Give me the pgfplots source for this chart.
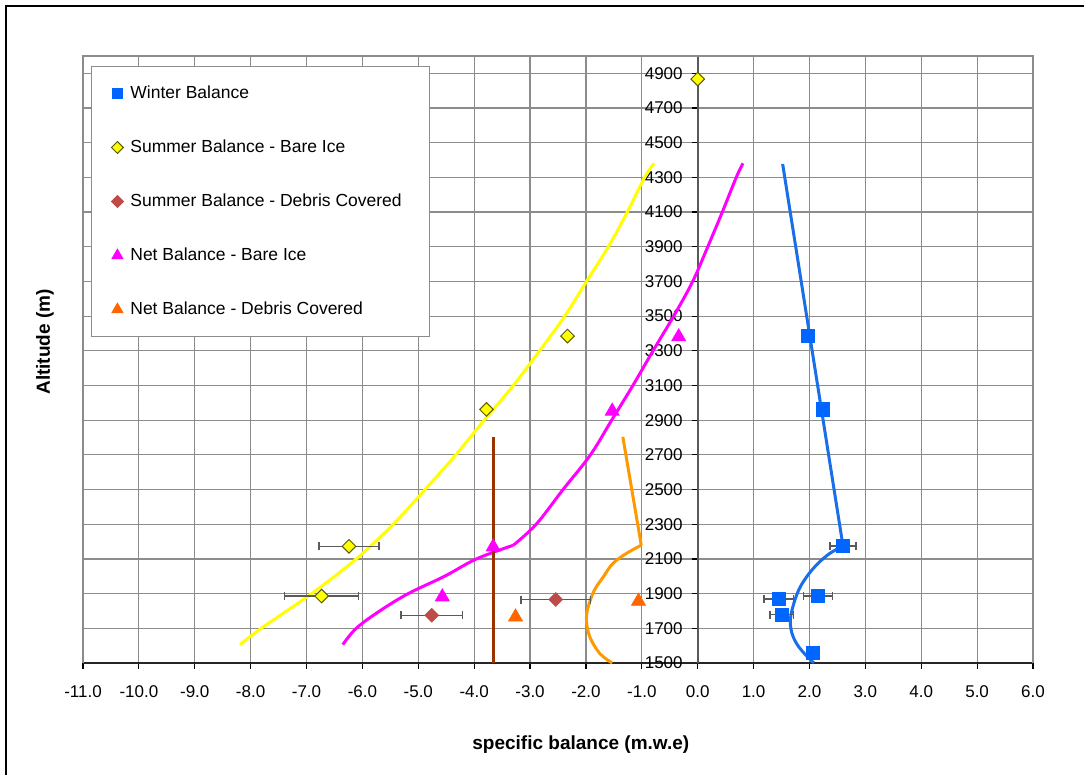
\documentclass[border=0pt]{standalone}
\usepackage{fontspec}
\setmainfont{Liberation Sans}
\usepackage{pgfplots}
\pgfplotsset{compat=1.18}
\definecolor{wb}{HTML}{0066FF}
\definecolor{wbline}{HTML}{1A6FE8}
\definecolor{sby}{HTML}{FFFF00}
\definecolor{sbyedge}{HTML}{5A5A00}
\definecolor{sbd}{HTML}{BE4B48}
\definecolor{nbi}{HTML}{FF00FF}
\definecolor{nbd}{HTML}{FF6600}
\definecolor{orl}{HTML}{FF9900}
\definecolor{brl}{HTML}{993300}
\definecolor{gridc}{HTML}{8C8C8C}
\definecolor{errc}{HTML}{5A5A5A}
\begin{document}
\begin{tikzpicture}
\useasboundingbox (-41.5pt,-56pt) rectangle (500.5pt,331.5pt);
\draw[black, line width=0.8pt] (-38.5pt,-56pt) -- (-38.5pt,328.5pt) -- (500.5pt,328.5pt);
\begin{axis}[
  scale only axis, width=475pt, height=303.5pt,
  at={(0,0)}, anchor=south west,
  xmin=-11, xmax=6, ymin=1500, ymax=5000,
  axis x line=bottom, axis y line=middle,
  hide obscured y ticks=false,
  hide obscured x ticks=false,
  x axis line style={black!85, line width=1pt, -},
  y axis line style={black!65, line width=1pt, -},
  xtick={-11,-10,...,6},
  ytick={1500,1700,...,4900},
  grid=major,
  major grid style={gridc, line width=0.6pt},
  tick align=outside,
  major tick length=3pt,
  tick style={black, line width=0.6pt},
  /pgf/number format/assume math mode=true,
  tick label style={font=\fontsize{8.5}{10}\selectfont},
  xticklabel style={/pgf/number format/.cd, fixed, fixed zerofill, precision=1, /tikz/.cd, yshift=-5pt},
  yticklabel style={/pgf/number format/.cd, 1000 sep={}, /tikz/.cd, xshift=-1pt},
  clip=false,
  legend image code/.code={\draw[#1] plot coordinates {(0.12cm,0cm)};},
  legend cell align=left,
  legend style={at={(0.0084,0.9835)}, anchor=north west, draw=gridc, line width=0.5pt,
    fill=white, font=\fontsize{8.75}{10}\selectfont, inner xsep=10pt, inner ysep=0pt,
    row sep=0pt, nodes={minimum height=27pt, inner ysep=0pt},
    /tikz/every odd column/.append style={column sep=1.5pt}},
]
% plot frame (top, left, right)
\draw[gridc, line width=0.6pt] (rel axis cs:0,0) -- (rel axis cs:0,1) -- (rel axis cs:1,1) -- (rel axis cs:1,0);

% legend images
\addlegendimage{only marks, mark=square*, color=wb, mark size=2.6pt}
\addlegendentry{Winter Balance}
\addlegendimage{only marks, mark=square*, mark size=2.1pt, mark options={rotate=45, draw=sbyedge, fill=sby, line width=0.5pt}}
\addlegendentry{Summer Balance - Bare Ice}
\addlegendimage{only marks, mark=square*, mark size=2.1pt, mark options={rotate=45, draw=sbd, fill=sbd}}
\addlegendentry{Summer Balance - Debris Covered\hspace*{2pt}}
\addlegendimage{only marks, mark=triangle*, color=nbi, mark size=3.1pt}
\addlegendentry{Net Balance - Bare Ice}
\addlegendimage{only marks, mark=triangle*, color=nbd, mark size=3.1pt}
\addlegendentry{Net Balance - Debris Covered}

% fitted lines
\addplot[sby, line width=1.5pt, no marks, smooth, tension=0.6, forget plot] coordinates {
 (-8.19,1606) (-7.81,1700) (-6.91,1900) (-6.11,2100) (-5.45,2300) (-4.88,2500)
 (-4.33,2700) (-3.82,2900) (-3.30,3100) (-2.83,3300) (-2.38,3500) (-1.99,3700)
 (-1.60,3900) (-1.26,4100) (-0.95,4300) (-0.78,4381)};
\addplot[nbi, line width=1.5pt, no marks, smooth, tension=0.6, forget plot] coordinates {
 (-6.35,1606) (-6.11,1700) (-5.69,1800) (-5.18,1900) (-4.53,2000) (-3.96,2100)
 (-3.30,2179)};
\addplot[nbi, line width=1.5pt, no marks, smooth, tension=0.6, forget plot] coordinates {
 (-3.30,2179) (-2.89,2300) (-2.41,2500) (-1.92,2700) (-1.54,2900) (-1.16,3100)
 (-0.80,3300) (-0.43,3500) (-0.09,3700) (0.18,3900) (0.44,4100) (0.69,4300) (0.81,4381)};
\addplot[brl, line width=1.5pt, no marks, forget plot] coordinates {(-3.66,1500) (-3.66,2804)};
\addplot[orl, line width=1.5pt, no marks, forget plot] coordinates {(-1.34,2804) (-1.01,2179)};
\addplot[orl, line width=1.5pt, no marks, smooth, tension=0.6, forget plot] coordinates {
 (-1.01,2179) (-1.28,2131) (-1.52,2073) (-1.69,1996) (-1.85,1919)
 (-1.96,1823) (-1.99,1746) (-1.93,1650) (-1.75,1554) (-1.53,1500)};
\addplot[wbline, line width=1.5pt, no marks, forget plot] coordinates {
 (1.52,4377) (2.60,2175)};
\addplot[wbline, line width=1.5pt, no marks, smooth, tension=0.6, forget plot] coordinates {
 (2.60,2175) (2.36,2131) (2.15,2073) (1.97,2006)
 (1.82,1929) (1.72,1843) (1.66,1756) (1.68,1679) (1.77,1612) (1.91,1554) (2.08,1500)};

% data points
\addplot[only marks, mark=square*, color=wb, mark size=3.3pt, forget plot,
  error bars/.cd, x dir=both, x explicit,
  error bar style={errc, line width=0.75pt},
  error mark options={errc, mark size=2pt, line width=0.75pt, rotate=90}]
 coordinates {(1.97,3386) +- (0,0) (2.24,2962) +- (0,0) (2.60,2175) +- (0.23,0)
  (1.45,1869) +- (0.26,0) (2.15,1886) +- (0.26,0) (1.50,1779) +- (0.21,0) (2.06,1558) +- (0,0)};
\addplot[only marks, mark=square*, mark size=2.4pt, forget plot,
  mark options={rotate=45, draw=sbyedge, fill=sby, line width=0.5pt},
  error bars/.cd, x dir=both, x explicit,
  error bar style={errc, line width=0.75pt},
  error mark options={errc, mark size=2pt, line width=0.75pt, rotate=90}]
 coordinates {(0.0,4867) +- (0,0) (-2.33,3385) +- (0,0) (-3.78,2962) +- (0,0)
  (-6.24,2173) +- (0.54,0) (-6.73,1886) +- (0.66,0)};
\addplot[only marks, mark=square*, mark size=2.4pt, forget plot,
  mark options={rotate=45, draw=sbd, fill=sbd},
  error bars/.cd, x dir=both, x explicit,
  error bar style={errc, line width=0.75pt},
  error mark options={errc, mark size=2pt, line width=0.75pt, rotate=90}]
 coordinates {(-4.76,1775) +- (0.55,0) (-2.54,1866) +- (0.62,0)};
\addplot[only marks, mark=triangle*, color=nbi, mark size=4pt, forget plot]
 coordinates {(-0.34,3381) (-1.53,2952) (-3.66,2169) (-4.57,1881)};
\addplot[only marks, mark=triangle*, color=nbd, mark size=4pt, forget plot]
 coordinates {(-3.26,1765) (-1.06,1856)};

\node[font=\fontsize{9.5}{11}\selectfont\bfseries] at (rel axis cs:0.524,-0.135) {specific balance (m.w.e)};
\node[font=\fontsize{9.5}{11}\selectfont\bfseries, rotate=90] at (rel axis cs:-0.04,0.529) {Altitude (m)};
\end{axis}
\end{tikzpicture}
\end{document}
